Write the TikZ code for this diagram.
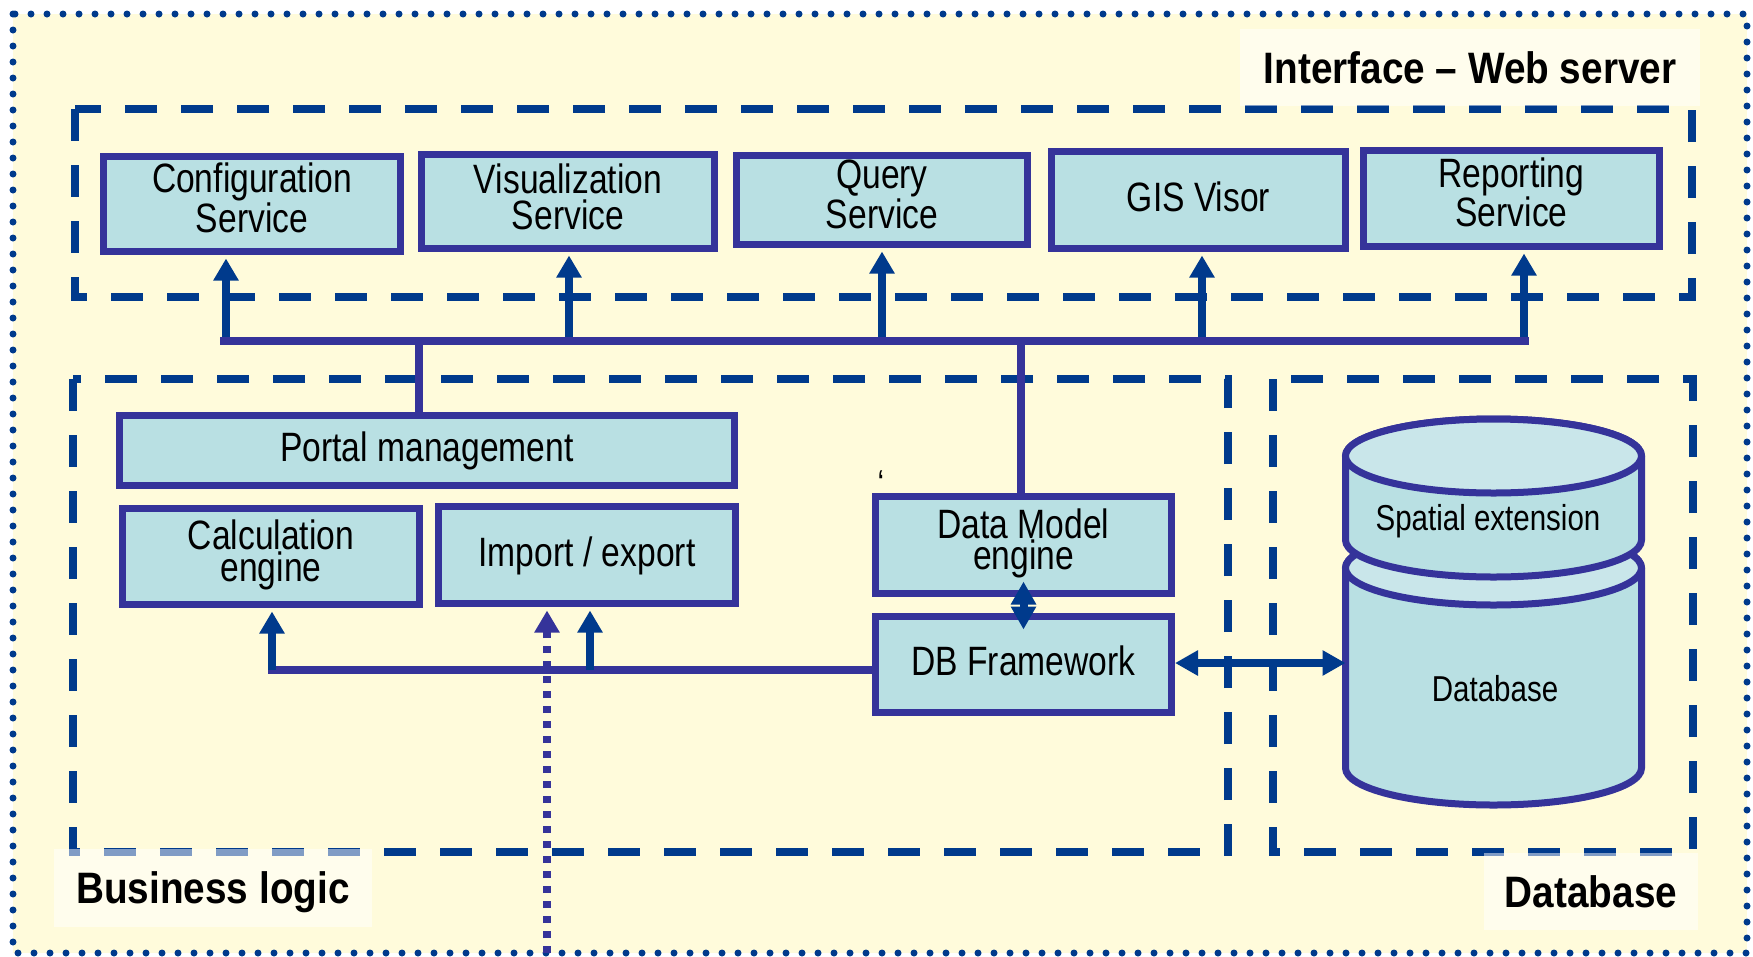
\documentclass[tikz,border=0pt]{standalone}
\usepackage{fontspec}
\setmainfont[FakeStretch=0.82]{Liberation Sans}
\newfontfamily\titlefont[FakeStretch=0.88]{Liberation Sans}
\usetikzlibrary{arrows.meta,calc}
\definecolor{bgc}{HTML}{FFFBDB}
\definecolor{bordc}{HTML}{35339A}
\definecolor{dblue}{HTML}{003A8C}
\definecolor{boxc}{HTML}{B9E0E3}
\definecolor{cyltop}{HTML}{C9E6EA}
\begin{document}
\begin{tikzpicture}[x=1pt,y=-1pt,
  box/.style={draw=bordc, fill=boxc, line width=7pt, inner sep=0pt, align=center},
  one/.style={box, font=\fontsize{41}{36}\selectfont, text height=30pt, text depth=8pt},
  svc/.style={box, font=\fontsize{41}{36}\selectfont, text height=64pt, text depth=8pt},
  two/.style={box, font=\fontsize{41}{30}\selectfont, text height=57pt, text depth=8pt},
  dashbox/.style={draw=dblue, line width=8pt, dash pattern=on 32pt off 24pt},
  dotborder/.style={draw=dblue, line width=7pt, line cap=round, dash pattern=on 0pt off 16pt},
  lbl/.style={fill=white, fill opacity=0.5, text opacity=1, inner sep=0pt, font=\titlefont\bfseries\fontsize{44}{44}\selectfont},
  wire/.style={draw=bordc, line width=8pt},
  up/.style={draw=dblue, line width=8pt, -{Triangle[length=22pt,width=24pt]}, shorten >=3.5pt},
  dotarrow/.style={draw=bordc, line width=8pt, dash pattern=on 7pt off 8pt, -{Triangle[length=22pt,width=24pt]}, shorten >=3.5pt},
  dbl/.style={draw=dblue, line width=8pt, {Triangle[length=23pt,width=24pt]}-{Triangle[length=23pt,width=24pt]}},
  cylline/.style={draw=bordc, line width=7pt},
  cyltext/.style={font=\fontsize{36}{36}\selectfont, inner sep=0pt}
]
\useasboundingbox (0,0) rectangle (1753,956);
\fill[bgc] (13,14) rectangle (1747,953);

% group frames
\draw[dashbox] (75,109) rectangle (1692,297);
\draw[dashbox] (73,379) rectangle (1228,852);
\draw[dashbox] (1273,379) rectangle (1693,852);

% outer dotted frame
\draw[dotborder] (13,14) rectangle (1747,953);

% group labels
\node[lbl, minimum width=460pt, minimum height=77pt] (ifl) at (1470,67.5) {Interface – Web server};
\node[lbl, minimum width=318pt, minimum height=78pt, text depth=0pt] (bll) at (213,888) {Business logic};
\node[lbl, minimum width=214pt, minimum height=77pt] (dbl) at (1591,891.5) {Database};

% service boxes
\node[svc, minimum width=297pt, minimum height=95pt] (cfg) at (252,204) {Configuration\\Service};
\node[svc, minimum width=293pt, minimum height=94pt] (vis) at (568,201.5) {Visualization\\Service};
\node[svc, minimum width=291pt, minimum height=89pt] (qry) at (882,200) {Query\\Service};
\node[one, minimum width=294pt, minimum height=97pt] (gis) at (1198.5,200) {GIS Visor};
\node[svc, minimum width=296pt, minimum height=96pt] (rep) at (1511.5,198.5) {Reporting\\Service};

% business logic boxes
\node[one, minimum width=615pt, minimum height=70pt] (portal) at (427,450.5) {Portal management};
\node[two, minimum width=297pt, minimum height=96pt] (calc) at (271,556.5) {Calculation\\engine};
\node[one, minimum width=297pt, minimum height=97pt] (imp) at (587,555) {Import / export};
\node[two, minimum width=296pt, minimum height=97pt] (dme) at (1023.5,545) {Data Model\\engine};
\node[one, minimum width=296pt, minimum height=96pt] (dbf) at (1023.5,664.5) {DB Framework};

\node[cyltext, anchor=base] (tick) at (881,495) {‘};

% cylinder: lower (Database)
\filldraw[cylline, fill=boxc] (1345.5,568) -- (1345.5,768)
  arc[start angle=180, end angle=360, x radius=148pt, y radius=37pt]
  -- (1641.5,568)
  arc[start angle=0, end angle=180, x radius=148pt, y radius=37pt] -- cycle;
\filldraw[cylline, fill=cyltop] (1493.5,568) ellipse [x radius=148pt, y radius=37pt];
% cylinder: upper (Spatial extension)
\filldraw[cylline, fill=boxc] (1345.5,456) -- (1345.5,540)
  arc[start angle=180, end angle=360, x radius=148pt, y radius=37pt]
  -- (1641.5,456)
  arc[start angle=0, end angle=180, x radius=148pt, y radius=37pt] -- cycle;
\filldraw[cylline, fill=cyltop] (1493.5,456) ellipse [x radius=148pt, y radius=37pt];
\node[cyltext] (spx) at (1488,521) {Spatial extension};
\node[cyltext] (dbt) at (1495,689) {Database};
\coordinate (cylW) at (1345.5,663);

% bus to the services
\foreach \n/\x in {cfg/226, vis/569, qry/882, gis/1202, rep/1524} {
  \coordinate (a\n) at (\x,341);
  \draw[up] (a\n) -- (a\n |- \n.south);
}
\coordinate (busL) at (220,341);
\coordinate (busR) at (1529,341);
\draw[wire] (busL) -- (busR);
\coordinate (pj) at (419,341);
\draw[wire] (pj) -- (pj |- portal.north);
\coordinate (dj) at (1021,341);
\draw[wire] (dj) -- (dj |- dme.north);

% lower connectors
\coordinate (lj) at (268,670);
\draw[wire] (lj) -- (lj -| dbf.west);
\coordinate (cj) at (272,670);
\draw[up] (cj) -- (cj |- calc.south);
\coordinate (ij) at (590,670);
\draw[up] (ij) -- (ij |- imp.south);
\coordinate (dotS) at (547,953);
\draw[dotarrow] (dotS) -- (dotS |- imp.south);

\draw[dbl] ([yshift=15.5pt]dme.south) -- ([yshift=-16.5pt]dbf.north);
\draw[dbl] (dbf.east |- cylW) -- (cylW);
\end{tikzpicture}
\end{document}
